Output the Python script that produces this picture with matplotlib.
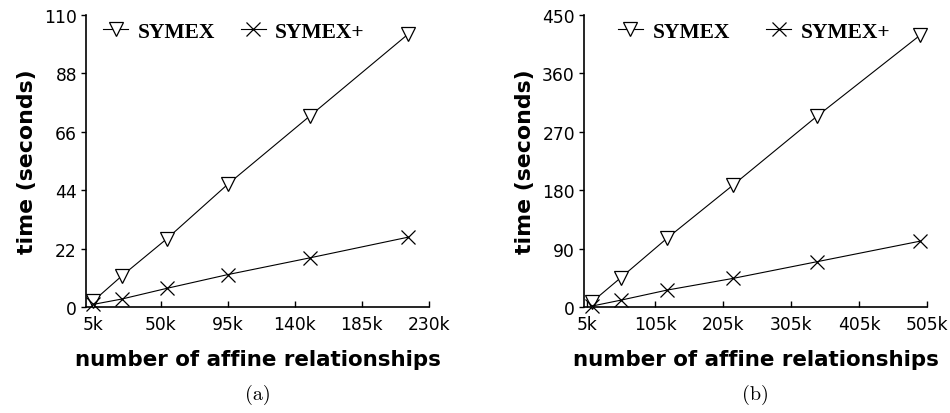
import matplotlib
matplotlib.use("Agg")
import matplotlib.pyplot as plt

# ---- data (x in thousands of affine relationships, y in seconds) ----
a_x = [5, 24, 54, 95, 150, 216]
a_symex = [2.3, 11.7, 25.6, 46.2, 71.9, 102.8]
a_symex_plus = [1.0, 3.0, 7.0, 12.2, 18.5, 26.3]
a_xticks = [5, 50, 95, 140, 185, 230]
a_yticks = [0, 22, 44, 66, 88, 110]

b_x = [12, 54, 122, 219, 343, 495]
b_symex = [8, 45, 105.7, 187.5, 294, 419]
b_symex_plus = [1.5, 10.5, 26, 44, 69.8, 101.5]
b_xticks = [5, 105, 205, 305, 405, 505]
b_yticks = [0, 90, 180, 270, 360, 450]

series_names = ["SYMEX", "SYMEX+"]
xlabel = "number of affine relationships"
ylabel = "time (seconds)"
captions = ["(a)", "(b)"]

plt.rcParams['font.family'] = ['DejaVu Sans']

fig = plt.figure(figsize=(9.5, 4.14), dpi=100)
W, H = 950.0, 414.0

def make_axes(left_px, right_px):
    return fig.add_axes([left_px / W, (H - 308) / H, (right_px - left_px) / W, (308 - 16) / H])

ax_a = make_axes(86, 429)
ax_b = make_axes(584, 927)

panels = [
    (ax_a, a_x, a_symex, a_symex_plus, a_xticks, a_yticks, 230, 110, 0.05, 1.2),
    (ax_b, b_x, b_symex, b_symex_plus, b_xticks, b_yticks, 505, 450, 0.099, 1.7),
]

for ax, xs, s1, s2, xt, yt, xmax, ymax, legx, colsp in panels:
    ax.plot(xs, s1, color='black', lw=0.8, marker='v', markersize=9.5,
            markerfacecolor='white', markeredgecolor='black', markeredgewidth=0.9,
            label=series_names[0], clip_on=False, zorder=3)
    ax.plot(xs, s2, color='black', lw=0.8, marker='x', markersize=9.5,
            markeredgewidth=0.9, label=series_names[1], clip_on=False, zorder=3)
    ax.set_xlim(0, xmax)
    ax.set_ylim(0, ymax)
    ax.set_xticks(xt)
    ax.set_xticklabels([f"{v}k" for v in xt])
    ax.set_yticks(yt)
    ax.set_yticklabels([str(v) for v in yt])
    for side in ('top', 'right'):
        ax.spines[side].set_visible(False)
    for side in ('left', 'bottom'):
        ax.spines[side].set_linewidth(1.2)
    ax.tick_params(axis='x', direction='in', length=4.5, width=1.0, pad=6, labelsize=12.3)
    ax.tick_params(axis='y', direction='out', length=3.5, width=1.0, pad=3, labelsize=12.3)
    ax.set_xlabel(xlabel, fontsize=15.4, fontweight='bold', labelpad=11)
    ax.set_ylabel(ylabel, fontsize=15.8, fontweight='bold', labelpad=5)
    ax.legend(loc='upper left', bbox_to_anchor=(legx, 0.977), ncol=2, frameon=False,
              borderpad=0, borderaxespad=0, handlelength=1.15, handletextpad=0.45,
              columnspacing=colsp,
              prop={'family': 'Liberation Serif', 'weight': 'bold', 'size': 15.5})

for ax, cap in zip((ax_a, ax_b), captions):
    pos = ax.get_position()
    fig.text((pos.x0 + pos.x1) / 2, 1 - 395 / H, cap, ha='center', va='center',
             family=['cmr10', 'DejaVu Serif'], fontsize=14.5)

fig.savefig("out.png", dpi=100)
